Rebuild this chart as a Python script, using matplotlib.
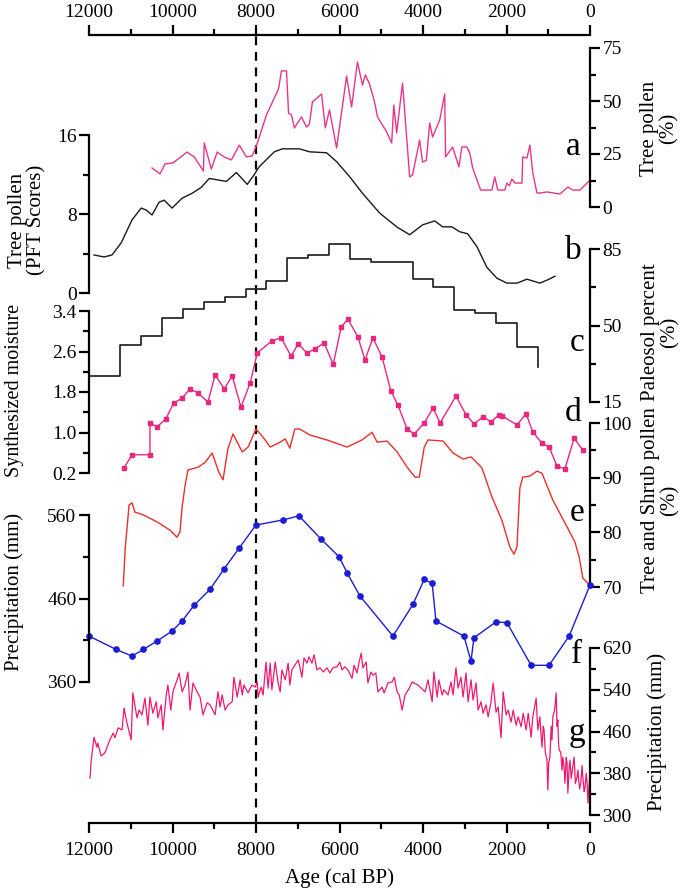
import matplotlib.pyplot as plt
import numpy as np

plt.rcParams['font.family'] = ['Liberation Serif', 'DejaVu Serif']

# a: tree pollen (%)
a_age = [10490, 10300, 10180, 9990, 9650, 9480, 9260, 9240, 9070, 8930, 8760, 8590, 8400, 8230,
         8090, 7970, 7750, 7460, 7390, 7270, 7220, 7150, 7080, 6910, 6790, 6720, 6650, 6430,
         6340, 6240, 6070, 5830, 5710, 5570, 5450, 5380, 5280, 5160, 5090, 4870, 4750, 4700,
         4630, 4490, 4320, 4250, 4080, 4010, 3920, 3840, 3770, 3600, 3480, 3460, 3290, 3140,
         3070, 2950, 2880, 2810, 2620, 2350, 2280, 2210, 2040, 1990, 1930, 1870, 1800, 1630,
         1610, 1510, 1440, 1370, 1270, 1200, 1030, 720, 530, 410, 240, 0]
a_val = [18.4, 15.6, 20.3, 20.8, 25.9, 23.6, 17.0, 30.2, 17.9, 25.9, 23.6, 22.2, 29.2, 23.6,
         24.1, 30.0, 43.4, 55.7, 64.2, 64.2, 44.3, 43.4, 37.3, 42.5, 37.7, 39.2, 49.5, 53.3,
         37.3, 45.8, 27.8, 61.8, 47.2, 68.4, 57.5, 62.3, 58.0, 49.5, 42.5, 35.4, 30.2, 48.1,
         34.9, 58.5, 14.2, 15.1, 31.6, 21.2, 22.0, 39.6, 33.0, 41.0, 53.3, 23.6, 28.3, 18.9,
         28.3, 28.3, 25.5, 18.4, 8.0, 8.0, 14.2, 8.0, 8.0, 11.3, 10.0, 13.2, 11.3, 11.3,
         23.6, 23.1, 29.2, 16.0, 6.6, 6.6, 7.1, 6.1, 9.4, 8.0, 8.0, 12.7]

# b: tree pollen (PFT scores)
b_age = [11880, 11640, 11450, 11230, 10970, 10750, 10630, 10490, 10320, 10200, 10010, 9770,
         9530, 9310, 9120, 8710, 8470, 8210, 8040, 7920, 7560, 7370, 6960, 6720, 6310, 6070,
         5760, 5450, 5040, 4630, 4320, 4010, 3720, 3530, 3310, 3120, 2930, 2710, 2470, 2230,
         1990, 1750, 1510, 1200, 1030, 840]
b_val = [3.85, 3.65, 3.85, 5.07, 7.4, 8.6, 8.4, 7.9, 9.2, 9.4, 8.6, 9.6,
         10.1, 10.7, 11.6, 11.3, 12.2, 11.0, 12.0, 12.8, 14.3, 14.6, 14.6, 14.3, 14.2, 13.3,
         11.8, 10.1, 8.1, 6.7, 5.9, 6.9, 7.3, 6.7, 6.7, 6.2, 6.0, 4.7, 2.6, 1.5,
         1.0, 1.0, 1.4, 1.0, 1.3, 1.7]

# c: paleosol percent (%), stepped
c_age = [12000, 11250, 10750, 10250, 9750, 9250, 8750, 8250, 7750, 7250, 6750, 6250, 5750,
         5250, 4250, 3750, 3250, 2750, 2250, 1750, 1250, 1250]
c_val = [26.9, 41.1, 45.2, 53.4, 57.5, 60.8, 63.0, 66.7, 70.4, 80.9, 82.3, 87.3, 80.4,
         79.1, 71.3, 67.6, 57.1, 55.7, 51.1, 40.2, 40.2, 31.0]

# d: synthesized moisture
d_age = [11160, 10970, 10540, 10540, 10370, 10160, 9970, 9770, 9580, 9390, 9150, 8980, 8760,
         8570, 8360, 8140, 7970, 7620, 7400, 7160, 6990, 6780, 6590, 6370, 6150, 5960, 5800,
         5560, 5390, 5200, 4980, 4770, 4600, 4380, 4210, 3970, 3760, 3590, 3210, 2970, 2780,
         2560, 2370, 2180, 2110, 1750, 1530, 1370, 1150, 980, 790, 600, 380, 170]
d_val = [0.30, 0.56, 0.56, 1.19, 1.11, 1.27, 1.58, 1.68, 1.86, 1.78, 1.60, 2.14, 1.86,
         2.12, 1.50, 1.98, 2.57, 2.81, 2.87, 2.51, 2.75, 2.57, 2.65, 2.77, 2.35, 3.08, 3.24,
         2.89, 2.43, 2.87, 2.49, 1.82, 1.54, 1.07, 0.97, 1.19, 1.48, 1.19, 1.72, 1.35, 1.17,
         1.31, 1.21, 1.35, 1.33, 1.15, 1.37, 1.01, 0.79, 0.71, 0.34, 0.28, 0.89, 0.65]

# e: tree and shrub pollen (%)
e_age = [11180, 11130, 11040, 10970, 10900, 10700, 10370, 10060, 9890, 9820, 9770, 9700, 9630,
         9390, 9220, 9050, 8890, 8790, 8670, 8550, 8330, 8190, 8000, 7830, 7660, 7420, 7300,
         7190, 7070, 6950, 6710, 6300, 5820, 5460, 5220, 5100, 4860, 4620, 4380, 4190, 4090,
         3970, 3880, 3520, 3280, 3040, 2850, 2590, 2350, 2110, 1920, 1820, 1750, 1680, 1610,
         1440, 1270, 1150, 890, 550, 360, 260, 170, 50]
e_val = [70.2, 77.3, 85.0, 85.4, 83.7, 83.2, 81.9, 80.4, 79.1, 80.1, 84.6, 88.5, 91.4,
         91.9, 92.8, 94.5, 91.0, 89.6, 95.4, 98.0, 94.7, 95.6, 98.9, 97.4, 95.6, 96.5, 97.1,
         95.4, 98.9, 98.9, 97.8, 96.9, 95.6, 96.9, 98.3, 96.5, 96.7, 94.7, 91.9, 90.1, 90.1,
         95.6, 96.9, 96.7, 94.5, 93.4, 93.8, 91.8, 86.5, 82.2, 77.3, 76.0, 77.3, 88.1, 90.1,
         90.3, 91.2, 90.8, 85.9, 81.0, 78.2, 75.5, 71.6, 70.7]

# f: precipitation (mm), pollen based
f_age = [12000, 11350, 10970, 10700, 10370, 10010, 9770, 9480, 9100, 8770, 8410, 8000, 7360,
         6970, 6440, 6010, 5810, 5510, 4720, 4240, 3970, 3780, 3690, 3020, 2850, 2780, 2250,
         1990, 1410, 980, 500, 0]
f_val = [415, 399, 391, 399, 409, 421, 433, 452, 471, 495, 520, 548, 554,
         559, 531, 510, 490, 463, 415, 453, 483, 478, 433, 415, 385, 413, 432,
         431, 380, 380, 415, 476]

# g: precipitation (mm), high resolution
g_age = [11975, 11950, 11880, 11810, 11790, 11710, 11620, 11500, 11420, 11380, 11300, 11210,
         11160, 11090, 10990, 10950, 10850, 10800, 10730, 10660, 10590, 10540, 10470, 10390,
         10350, 10270, 10230, 10150, 10110, 10040, 9990, 9890, 9840, 9770, 9700, 9630, 9580,
         9510, 9410, 9340, 9270, 9170, 9100, 8980, 8910, 8860, 8810, 8740, 8670, 8570, 8530,
         8450, 8380, 8330, 8290, 8190, 8100, 8020, 7970, 7950, 7880, 7830, 7760, 7710, 7660,
         7620, 7540, 7470, 7420, 7380, 7300, 7230, 7190, 7140, 7070, 6990, 6950, 6900, 6850,
         6780, 6730, 6660, 6610, 6540, 6470, 6390, 6300, 6230, 6160, 6060, 5990, 5940, 5870,
         5800, 5700, 5650, 5580, 5530, 5480, 5440, 5360, 5320, 5250, 5200, 5130, 5080, 4980,
         4930, 4840, 4740, 4690, 4620, 4570, 4500, 4430, 4330, 4260, 4120, 3950, 3880, 3780,
         3740, 3660, 3620, 3540, 3500, 3400, 3330, 3280, 3210, 3160, 3090, 3040, 2970, 2920,
         2850, 2800, 2730, 2680, 2610, 2560, 2490, 2440, 2370, 2320, 2250, 2200, 2130, 2080,
         2010, 1960, 1890, 1840, 1770, 1720, 1650, 1600, 1530, 1480, 1410, 1370, 1290, 1250,
         1200, 1170, 1150, 1120, 1100, 1070, 1030, 1010, 990, 960, 930, 910, 890, 850, 810,
         790, 770, 755, 740, 700, 670, 650, 620, 600, 570, 550, 530, 500, 480, 450, 430, 400,
         380, 350, 310, 290, 250, 220, 190, 170, 140, 120, 90, 70, 50, 20, 0]
g_val = [371, 402, 449, 430, 438, 413, 419, 444, 457, 448, 467, 463,
         505, 476, 444, 534, 486, 501, 492, 524, 472, 526, 495, 517,
         486, 511, 463, 530, 549, 501, 536, 559, 572, 536, 549, 574, 501,
         553, 536, 526, 492, 515, 511, 492, 536, 507, 530, 501, 511, 517, 564,
         526, 559, 530, 549, 534, 549, 545, 555, 526, 545, 530, 593, 543, 591,
         540, 593, 553, 536, 578, 559, 591, 549, 578, 587, 597, 584, 564, 601,
         591, 603, 591, 607, 578, 582, 574, 582, 572, 582, 584, 593, 578, 584,
         578, 562, 587, 572, 593, 610, 582, 593, 553, 574, 568, 572, 536, 545,
         534, 553, 555, 564, 536, 530, 501, 530, 543, 555, 549, 536, 559, 517,
         574, 526, 559, 530, 540, 530, 555, 530, 582, 543, 564, 526, 572, 517,
         559, 520, 553, 501, 517, 495, 511, 488, 517, 553, 497, 507, 448, 536,
         492, 501, 478, 501, 472, 488, 469, 495, 463, 495, 449, 488, 524, 463,
         488, 450, 430, 470, 463, 420, 405, 348, 400, 411, 470, 444, 488, 500, 534,
         470, 482, 440, 425, 420, 386, 411, 390, 361, 410, 400, 342, 390, 405, 370, 382, 400,
         411, 360, 373, 386, 350, 361, 395, 371, 345, 352, 380, 361, 323, 360, 380]

age_ticks = [12000, 10000, 8000, 6000, 4000, 2000, 0]
age_minor = [11000, 9000, 7000, 5000, 3000, 1000]

W, H = 685, 893
X0, X1 = 89, 590
fig = plt.figure(figsize=(W / 100, H / 100), dpi=100)


def rect(top, bottom):
    return [X0 / W, 1 - bottom / H, (X1 - X0) / W, (bottom - top) / H]


def panel(top, bottom, lims, side, major, minor, labels=None):
    ax = fig.add_axes(rect(top, bottom))
    ax.set_xlim(12000, 0)
    ax.set_ylim(*lims)
    ax.patch.set_visible(False)
    for s in ax.spines:
        ax.spines[s].set_visible(s == side)
    ax.spines[side].set_linewidth(1.6)
    ax.set_xticks([])
    ax.yaxis.set_ticks_position(side)
    ax.set_yticks(major, labels=labels)
    ax.set_yticks(minor, minor=True)
    ax.tick_params(axis='y', which='major', length=7, width=1.6, pad=2, labelsize=14)
    ax.tick_params(axis='y', which='minor', length=4, width=1.6)
    return ax


def age_axis(side, pad):
    ax = fig.add_axes(rect(35, 823))
    ax.set_xlim(12000, 0)
    ax.patch.set_visible(False)
    for s in ax.spines:
        ax.spines[s].set_visible(s == side)
    ax.spines[side].set_linewidth(1.6)
    ax.set_yticks([])
    ax.xaxis.set_ticks_position(side)
    ax.xaxis.set_label_position(side)
    ax.set_xticks(age_ticks)
    ax.set_xticks(age_minor, minor=True)
    ax.tick_params(axis='x', which='both', width=1.6, labelsize=14, pad=pad)
    ax.tick_params(axis='x', which='major', length=7)
    ax.tick_params(axis='x', which='minor', length=4)
    return ax


top_ax = age_axis('top', 3)
bot_ax = age_axis('bottom', 7)
bot_ax.axvline(8000, color='k', lw=1.6, ls=(0, (4, 3)))
bot_ax.set_xlabel('Age (cal BP)', fontsize=15, labelpad=6)

ax_a = panel(48, 207, (0, 75), 'right', [0, 25, 50, 75], [12.5, 37.5, 62.5])
ax_a.plot(a_age, a_val, color='#e8358a', lw=1.0, clip_on=False)

ax_b = panel(135, 293, (0, 16), 'left', [0, 8, 16], [4, 12])
ax_b.plot(b_age, b_val, color='#1a1a1a', lw=1.0, clip_on=False)

ax_c = panel(249, 402, (15, 85), 'right', [15, 50, 85], [32.5, 67.5])
ax_c.plot(c_age, c_val, color='#1a1a1a', lw=1.2, drawstyle='steps-post', clip_on=False)

ax_d = panel(311, 473, (0.2, 3.4), 'left', [0.2, 1.0, 1.8, 2.6, 3.4], [0.6, 1.4, 2.2, 3.0],
             labels=['0.2', '1.0', '1.8', '2.6', '3.4'])
ax_d.plot(d_age, d_val, color='#e8287f', lw=1.0, marker='s', ms=3.5, clip_on=False)

ax_e = panel(423, 587, (70, 100), 'right', [70, 80, 90, 100], [75, 85, 95])
ax_e.plot(e_age, e_val, color='#e8302a', lw=1.0, clip_on=False)

ax_f = panel(515, 682, (360, 560), 'left', [360, 460, 560], [410, 510])
ax_f.plot(f_age, f_val, color='#1c1cd6', lw=1.0, marker='o', ms=3.8, clip_on=False)

ax_g = panel(648, 815, (300, 620), 'right', [300, 380, 460, 540, 620], [340, 420, 500, 580])
ax_g.plot(g_age, g_val, color='#f0186e', lw=0.9, clip_on=False)


def ftext(x, y, s, **kw):
    fig.text(x / W, 1 - y / H, s, ha='center', va='center', **kw)


for letter, x, y in [('a', 573, 147), ('b', 573, 251), ('c', 577, 343), ('d', 573, 413),
                     ('e', 577, 513), ('f', 577, 655), ('g', 577, 733)]:
    ftext(x, y, letter, fontsize=24)

ftext(659, 128, 'Tree pollen\n(%)', fontsize=15, rotation=90, linespacing=1.0)
ftext(27, 220, 'Tree pollen\n(PFT Scores)', fontsize=15, rotation=90, linespacing=1.0)
ftext(15, 390, 'Synthesized moisture', fontsize=14.5, rotation=90)
ftext(660, 332, 'Paleosol percent\n(%)', fontsize=15, rotation=90, linespacing=1.0)
ftext(660, 500, 'Tree and Shrub pollen\n(%)', fontsize=15, rotation=90, linespacing=1.0)
ftext(14, 592, 'Precipitation (mm)', fontsize=15, rotation=90)
ftext(657, 732, 'Precipitation (mm)', fontsize=15, rotation=90)

fig.savefig('out.png', dpi=100)
